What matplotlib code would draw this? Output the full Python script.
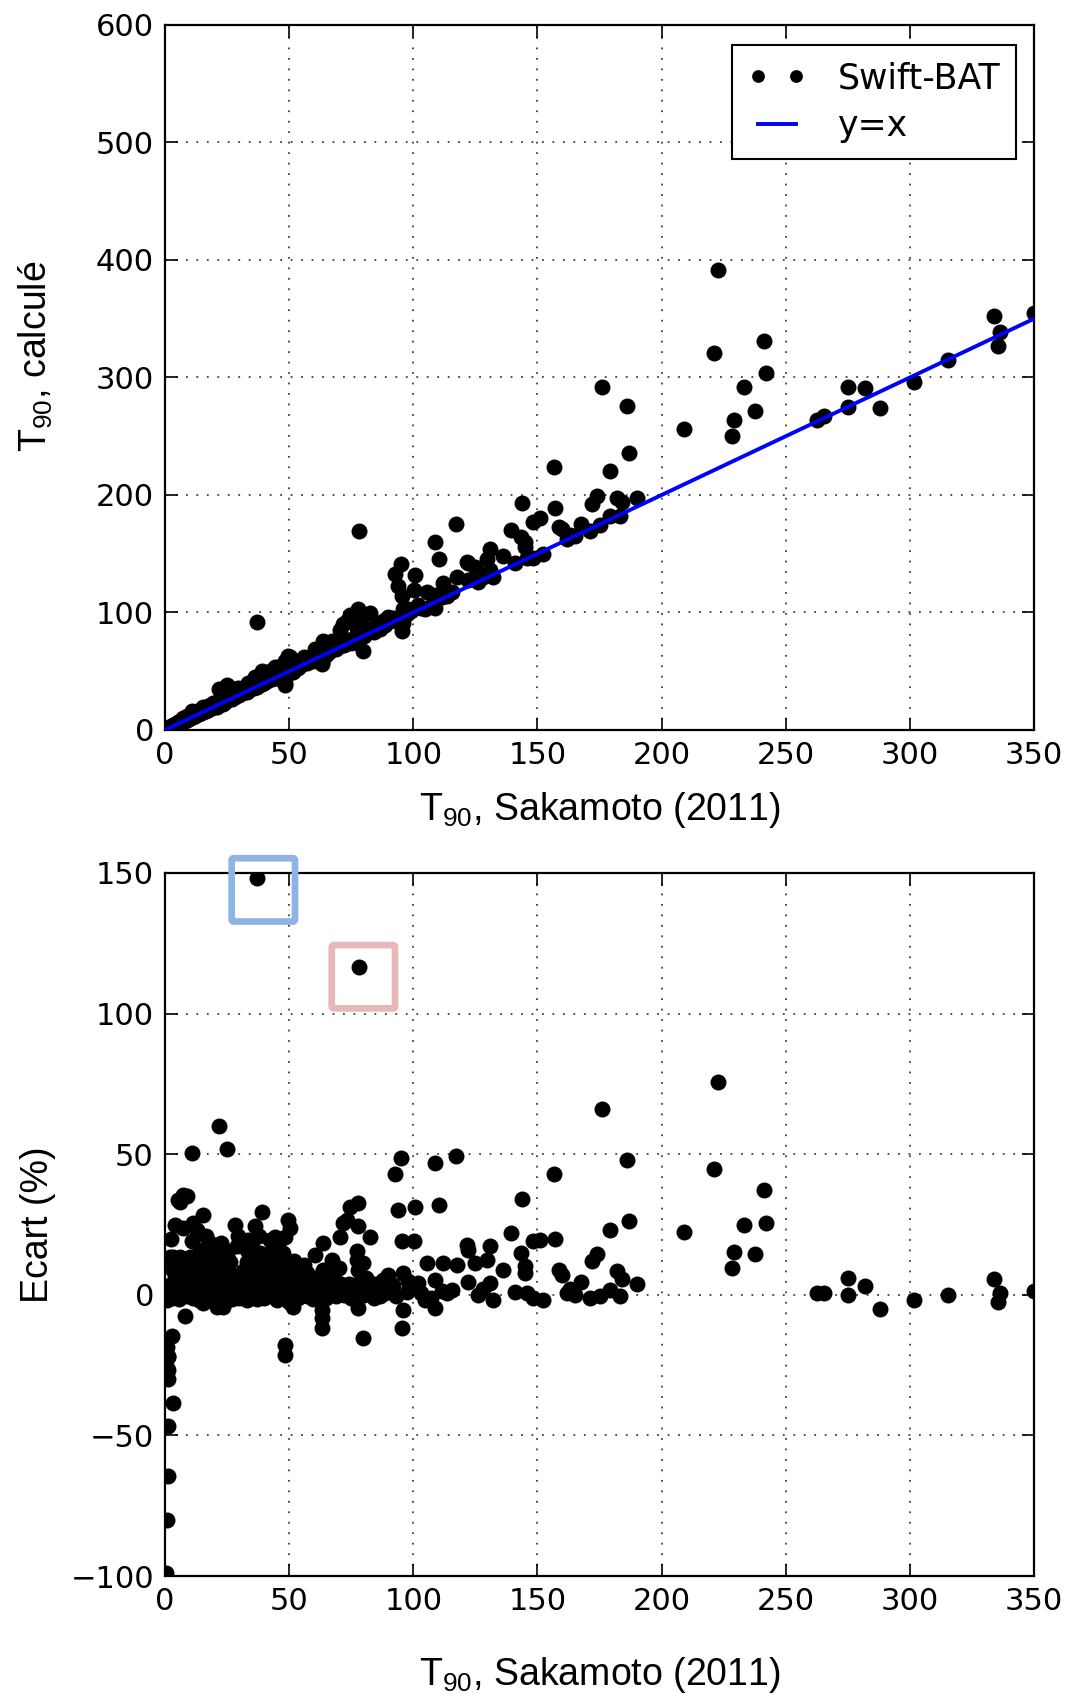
import matplotlib
matplotlib.use("Agg")
import matplotlib.pyplot as plt
import numpy as np
from matplotlib.patches import FancyBboxPatch

plt.rcParams['font.family'] = ['DejaVu Sans']
plt.rcParams['mathtext.fontset'] = 'custom'
plt.rcParams['mathtext.rm'] = 'Liberation Sans'

# ---- data: T90 Sakamoto (2011) [s] and relative deviation (%) ----
# outliers / scattered points
t90_sak_a = [37.1, 78.2, 222.9, 176.0, 21.8, 10.8, 25.0, 95.0, 92.8, 108.8, 117.4, 156.5,
             186.1, 221.3, 241.1, 143.7, 110.3, 100.6, 94.0, 139.2, 179.1, 186.7, 209.2,
             233.3, 241.9, 229.2, 237.6, 228.4, 157.1, 151.1, 148.4, 143.3, 145.0, 145.0,
             173.9, 171.9, 158.5, 159.8, 181.9, 183.9, 190.2, 167.5, 161.8, 165.2, 171.2,
             175.3, 179.3, 183.3, 152.4, 148.4, 145.7, 136.3, 130.9, 121.6, 122.2, 129.6,
             124.9, 117.5, 122.2, 130.9, 132.3, 105.4, 112.1, 102.1, 108.8, 104.8, 108.8,
             115.5, 113.5, 95.4, 100.1, 96.0, 96.0, 95.6, 88.0, 86.6, 79.9, 74.5, 77.9,
             71.8, 73.2, 77.9, 82.6, 70.5, 63.8, 60.4, 67.2, 77.2, 77.2, 79.9, 77.9, 63.8,
             66.5, 63.1, 63.1, 63.4, 48.3, 48.3, 49.7, 50.4, 48.3, 39.0, 36.3, 28.2, 42.3,
             44.3, 33.6, 15.4, 12.8, 7.4, 8.7, 5.4, 6.0, 4.0, 7.4, 11.4, 18.1, 19.5, 28.9,
             32.9, 26.2, 38.3, 40.9, 2.0, 6.0, 10.1, 4.0, 8.7, 49.7, 53.1, 57.1, 45.0, 42.3,
             18.1, 20.8, 18.1, 23.5, 30.2, 36.9, 42.3, 8.1, 2.7, 1.3, 1.3, 20.8, 23.5, 15.4,
             51.7, 77.9, 3.4, 1.0, 1.2, 1.0, 1.1, 3.4, 1.3, 1.3, 1.0, 0.5,
             262.6, 265.5, 275.0, 275.0, 282.0, 287.8, 301.8, 315.3, 333.7, 336.4, 335.7, 350.0]
ecart_a = [148.3, 116.5, 75.5, 66.0, 60.0, 50.5, 51.7, 48.6, 42.9, 46.8, 49.4, 43.0,
           48.0, 44.9, 37.3, 34.2, 31.9, 31.4, 30.0, 22.0, 23.1, 26.1, 22.5,
           25.0, 25.6, 15.1, 14.4, 9.4, 20.0, 19.6, 19.0, 14.8, 10.1, 7.7,
           14.5, 12.1, 8.9, 7.1, 8.6, 5.6, 3.9, 4.7, 0.6, 0.0, -1.2,
           -0.6, 1.8, -0.6, -1.8, -1.2, 0.6, 8.9, 17.5, 17.8, 16.0, 12.4,
           11.2, 10.7, 4.7, 4.1, -1.8, 11.3, 11.3, 4.1, 5.3, -1.8, -4.7,
           1.8, 0.6, 19.3, 19.3, 7.7, -5.3, -11.9, 5.3, -0.6, -15.4, 31.4, 32.6,
           25.5, 26.7, 24.3, 20.7, 20.7, 18.3, 14.2, 12.4, 15.4, 12.4, 11.3, 8.9, 8.9,
           7.7, -5.3, -8.3, -11.9, -17.8, -21.4, 26.7, 23.7, 20.7, 29.3, 24.5, 24.8, 19.6,
           20.7, 19.6, 28.5, 23.1, 35.6, 35.0, 33.8, 33.0, 24.9, 23.7, 25.5, 18.3, 16.0, 17.2,
           16.0, 11.8, 14.8, 14.2, 13.6, 13.6, 13.6, 6.5, 10.0, 11.3, 8.9, 7.7, 10.0, 14.8,
           12.4, 14.2, 5.3, 5.3, 5.3, 5.3, 5.3, -7.7, -14.8, -21.9, -26.7, -4.2, -4.2, -3.0,
           -4.2, -4.7, 13.6, -18.4, -22.0, -26.0, -30.0, -38.5, -46.8, -64.6, -80.0, -99.0,
           0.6, 0.6, 6.1, 0.0, 3.2, -4.9, -1.8, 0.0, 5.6, 0.6, -2.6, 1.5]

# dense band close to zero deviation
t90_sak_b = [0.8, 1.6, 2.2, 3.0, 3.6, 4.4, 5.1, 5.8, 6.5, 7.3, 8.0, 8.9, 9.6, 10.4, 11.2,
             12.1, 13.0, 13.8, 14.7, 15.5, 16.4, 17.2, 18.0, 18.9, 19.8, 20.6, 21.5, 22.4,
             23.3, 24.1, 25.0, 26.0, 27.0, 28.0, 29.1, 30.0, 31.0, 32.1, 33.0, 34.0, 35.1,
             36.0, 37.0, 38.0, 39.2, 40.0, 41.1, 42.0, 43.2, 44.1, 45.0, 46.2, 47.1, 48.0,
             49.2, 50.0, 51.3, 52.5, 53.4, 54.6, 55.8, 57.0, 58.3, 59.5, 60.8, 62.0, 63.4,
             64.8, 66.0, 67.5, 69.0, 70.4, 72.0, 73.5, 75.0, 76.6, 78.5, 80.2, 82.0, 84.0,
             86.0, 88.5, 90.5, 93.0, 97.5, 99.0, 103.0, 107.0, 111.5, 126.0, 128.0, 141.0, 163.0]
ecart_b = [-2.0, 1.0, 3.5, -1.0, 2.0, 0.5, 3.0, -1.5, 1.5, 0.0, 2.5, -0.5, 1.0, 3.0, -1.0,
           0.5, 2.0, -2.0, 1.0, 3.5, 0.0, -1.5, 2.0, 0.5, -2.0, 1.5, 3.0, -0.5,
           1.0, -2.5, 2.5, 0.0, -1.5, 1.5, 3.0, -1.0, 0.5, 2.0, -2.0, 1.0, 3.5,
           0.0, -1.5, 2.0, 0.5, -1.0, 1.5, 3.0, -0.5, 1.0, -2.0, 2.5, 0.5, -1.0,
           1.5, -2.5, 0.5, 2.0, -1.0, 1.0, 3.0, -0.5, 1.0, -1.5, 2.0, 0.0, 3.0,
           -1.0, 1.0, 2.5, -0.5, 1.0, 0.0, 2.0, -1.0, 1.0, 3.5, 0.0, 1.5, -1.0,
           2.0, 0.5, 3.0, -0.5, 1.0, 2.5, 0.5, -1.0, 1.5, 0.0, 2.0, 1.0, 2.0]

# moderately deviating cloud at short durations
t90_sak_c = [3.0, 5.5, 7.0, 9.5, 12.0, 13.5, 16.0, 17.0, 20.0, 22.0, 24.0, 26.5, 27.5, 31.5,
             33.0, 34.5, 36.0, 38.5, 40.0, 43.0, 44.5, 46.5, 47.5, 50.5, 52.0, 54.0, 56.0,
             58.0, 61.0, 65.0, 68.0, 70.0, 74.0, 81.0, 84.5, 90.0, 98.0, 14.0, 22.5, 25.5,
             29.5, 35.0, 45.5, 11.0, 2.5, 16.5, 38.0,
             4.5, 6.0, 9.0, 11.0, 14.5, 15.0, 18.5, 21.0, 23.0, 25.5, 28.5, 30.5, 33.5,
             36.5, 37.5, 39.5, 41.5, 43.5, 45.5, 47.0, 49.5, 51.0, 53.0, 55.0, 57.5, 60.0,
             62.5, 66.5, 71.0, 76.0, 79.0, 85.0, 92.0]
ecart_c = [9.0, 8.0, 5.0, 7.5, 6.0, 9.0, 7.0, 10.5, 8.0, 6.5, 9.5, 7.0, 4.5, 8.5,
           11.5, 7.0, 9.0, 8.0, 11.0, 7.5, 13.0, 6.5, 15.0, 5.5, 12.0, 6.0, 10.5,
           4.5, 6.0, 4.0, 5.5, 9.5, 4.0, 6.0, 4.0, 7.0, 5.0, 16.0, 18.5, 15.5,
           21.0, 17.0, 17.5, 19.0, 20.0, 21.0, 21.0,
           4.5, 11.0, 3.5, 10.0, 12.0, 4.5, 9.0, 11.0, 3.5, 12.5, 5.5, 3.5, 5.0,
           13.0, 4.0, 6.0, 9.0, 4.0, 11.0, 3.5, 8.0, 3.0, 5.5, 4.0, 3.0, 4.0,
           5.0, 3.0, 4.0, 3.5, 4.5, 3.0, 3.5]

t90_sak = np.array(t90_sak_a + t90_sak_b + t90_sak_c)
ecart = np.array(ecart_a + ecart_b + ecart_c)
t90_calc = t90_sak * (1.0 + ecart / 100.0)

identity_x = [0, 350]

xticks = [0, 50, 100, 150, 200, 250, 300, 350]
yticks_top = [0, 100, 200, 300, 400, 500, 600]
yticks_bot = [-100, -50, 0, 50, 100, 150]

# ---- figure ----
W, H = 1067, 1698
fig = plt.figure(figsize=(W / 100, H / 100), dpi=100)

left = 165 / W
width = (1034 - 165) / W
ax1 = fig.add_axes([left, 1 - 730 / H, width, (730 - 25) / H])
ax2 = fig.add_axes([left, 1 - 1576 / H, width, (1576 - 873) / H])

label_font = dict(family='Liberation Sans', size=27)
tick_size = 22

for ax in (ax1, ax2):
    ax.set_xlim(0, 350)
    ax.set_xticks(xticks)
    ax.grid(True, color='0.25', linestyle=(0, (1, 4.8)), linewidth=1.3)
    ax.set_axisbelow(True)
    ax.tick_params(direction='in', length=9, width=1.2, top=True, right=True,
                   labelsize=tick_size, pad=8)
    for s in ax.spines.values():
        s.set_linewidth(1.6)

ms = 11.5

# top panel
ax1.plot(t90_sak, t90_calc, 'o', color='black', markersize=ms, markeredgewidth=0,
         label='Swift-BAT', zorder=3)
ax1.plot(identity_x, identity_x, '-', color='#0000ff', linewidth=2.8, label='y=x', zorder=4)
ax1.set_ylim(0, 600)
ax1.set_yticks(yticks_top)
ax1.set_xlabel(r'T$_{\mathregular{90}}$, Sakamoto (2011)', fontdict=label_font, labelpad=14)
ax1.set_ylabel(r'T$_{\mathregular{90}}$, calculé', fontdict=label_font)
ax1.yaxis.set_label_coords(-0.127, 0.53)
leg = ax1.legend(loc='upper right', bbox_to_anchor=(0.979, 0.971), borderaxespad=0,
                 numpoints=2, fontsize=25, fancybox=False,
                 edgecolor='black', framealpha=1, handlelength=1.7, markerscale=0.8,
                 handletextpad=0.9, borderpad=0.45, labelspacing=0.4)
leg.get_frame().set_linewidth(1.5)

# bottom panel
ax2.plot(t90_sak, ecart, 'o', color='black', markersize=ms, markeredgewidth=0, zorder=3)
ax2.set_ylim(-100, 150)
ax2.set_yticks(yticks_bot)
ax2.set_xlabel(r'T$_{\mathregular{90}}$, Sakamoto (2011)', fontdict=label_font, labelpad=28)
ax2.set_ylabel('Ecart (%)', fontdict=label_font)
ax2.yaxis.set_label_coords(-0.126, 0.5)

# highlight boxes around the two largest outliers
boxes = [((39.6, 144.0), '#8DB4E2'), ((79.9, 113.1), '#E6B8B7')]
bw, bh = 25.5, 22.5
for (cx, cy), col in boxes:
    p = FancyBboxPatch((cx - bw / 2, cy - bh / 2), bw, bh,
                       boxstyle='round,pad=0,rounding_size=0.8',
                       fill=False, edgecolor=col, linewidth=4.8,
                       transform=ax2.transData, clip_on=False, zorder=6,
                       mutation_aspect=0.9)
    ax2.add_patch(p)

fig.savefig('out.png', dpi=100)
